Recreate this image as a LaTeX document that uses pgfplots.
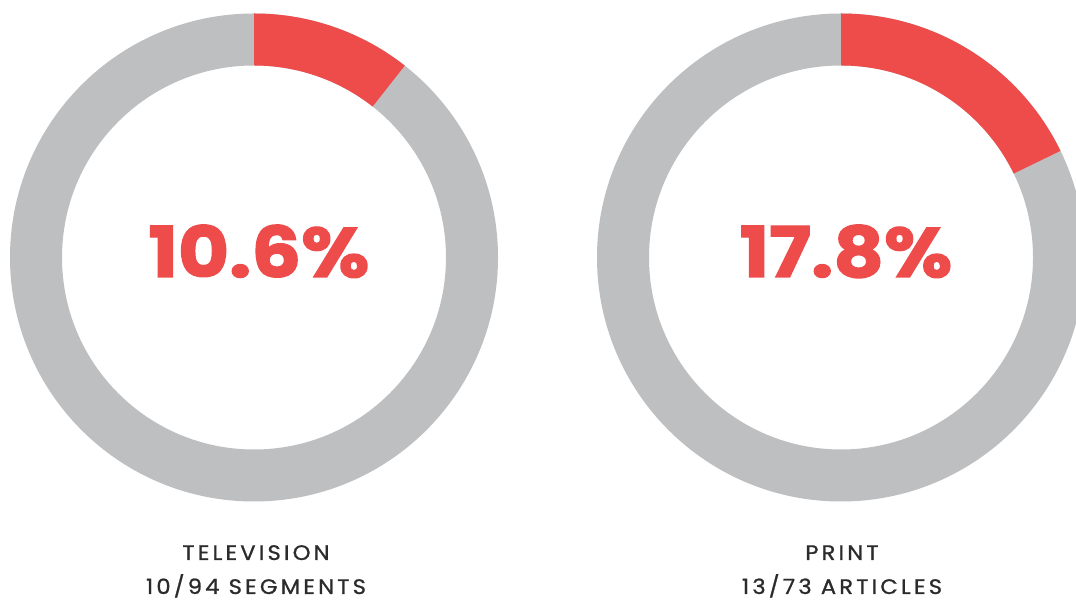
\documentclass[border=0pt]{standalone}
\usepackage{pgfplots}
\pgfplotsset{compat=1.18}
\usepackage{pgfplotstable}
\usepackage{fontspec}
\setmainfont{Poppins}
\newfontfamily\pctfont[FakeStretch=1.12, FakeBold=2]{Poppins Bold}
\newfontfamily\labelfont[LetterSpace=15, FakeStretch=1.08, FakeBold=1]{Poppins}
\definecolor{ringgray}{HTML}{BEBFC1}
\definecolor{ringred}{HTML}{EE4B4B}
\definecolor{labeltxt}{HTML}{2B2B2B}
% donut centre x (px) and share (%)
\pgfplotstableread{
cx  share
254 10.6
841 17.8
}\donuts
\begin{document}
\begin{tikzpicture}
\begin{axis}[
  scale only axis, width=1076pt, height=602pt,
  xmin=0, xmax=1076, ymin=0, ymax=602,
  axis lines=none, clip=true,
]
\pgfplotstablegetelem{0}{share}\of\donuts \let\sA\pgfplotsretval
\pgfplotstablegetelem{1}{share}\of\donuts \let\sB\pgfplotsretval
\def\cy{344.5}
\def\R{244}
\def\r{192}
% left donut
\fill[ringgray, even odd rule] (axis cs:254,\cy) circle[radius=\R pt] (axis cs:254,\cy) circle[radius=\r pt];
\pgfmathsetmacro\eA{90-3.6*\sA}
\fill[ringred] ([shift={(90:\R pt)}]axis cs:254,\cy) arc[start angle=90, end angle=\eA, radius=\R pt]
  -- ([shift={(\eA:\r pt)}]axis cs:254,\cy) arc[start angle=\eA, end angle=90, radius=\r pt] -- cycle;
% right donut
\fill[ringgray, even odd rule] (axis cs:841,\cy) circle[radius=\R pt] (axis cs:841,\cy) circle[radius=\r pt];
\pgfmathsetmacro\eB{90-3.6*\sB}
\fill[ringred] ([shift={(90:\R pt)}]axis cs:841,\cy) arc[start angle=90, end angle=\eB, radius=\R pt]
  -- ([shift={(\eB:\r pt)}]axis cs:841,\cy) arc[start angle=\eB, end angle=90, radius=\r pt] -- cycle;
% centre values
\node[text=ringred, font=\fontsize{70}{70}\selectfont\pctfont, anchor=base] at (axis cs:259,325) {10.6\%};
\node[text=ringred, font=\fontsize{70}{70}\selectfont\pctfont, anchor=base] at (axis cs:846,325) {17.8\%};
% labels
\node[text=labeltxt, font=\fontsize{21}{21}\selectfont\labelfont, anchor=base] at (axis cs:256,42) {TELEVISION};
\node[text=labeltxt, font=\fontsize{21}{21}\selectfont\labelfont, anchor=base] at (axis cs:256,8) {10/94 SEGMENTS};
\node[text=labeltxt, font=\fontsize{21}{21}\selectfont\labelfont, anchor=base] at (axis cs:842,42) {PRINT};
\node[text=labeltxt, font=\fontsize{21}{21}\selectfont\labelfont, anchor=base] at (axis cs:842,8) {13/73 ARTICLES};
\end{axis}
\pgfresetboundingbox
\path[use as bounding box] (0,0) rectangle (1076pt,602pt);
\end{tikzpicture}
\end{document}
